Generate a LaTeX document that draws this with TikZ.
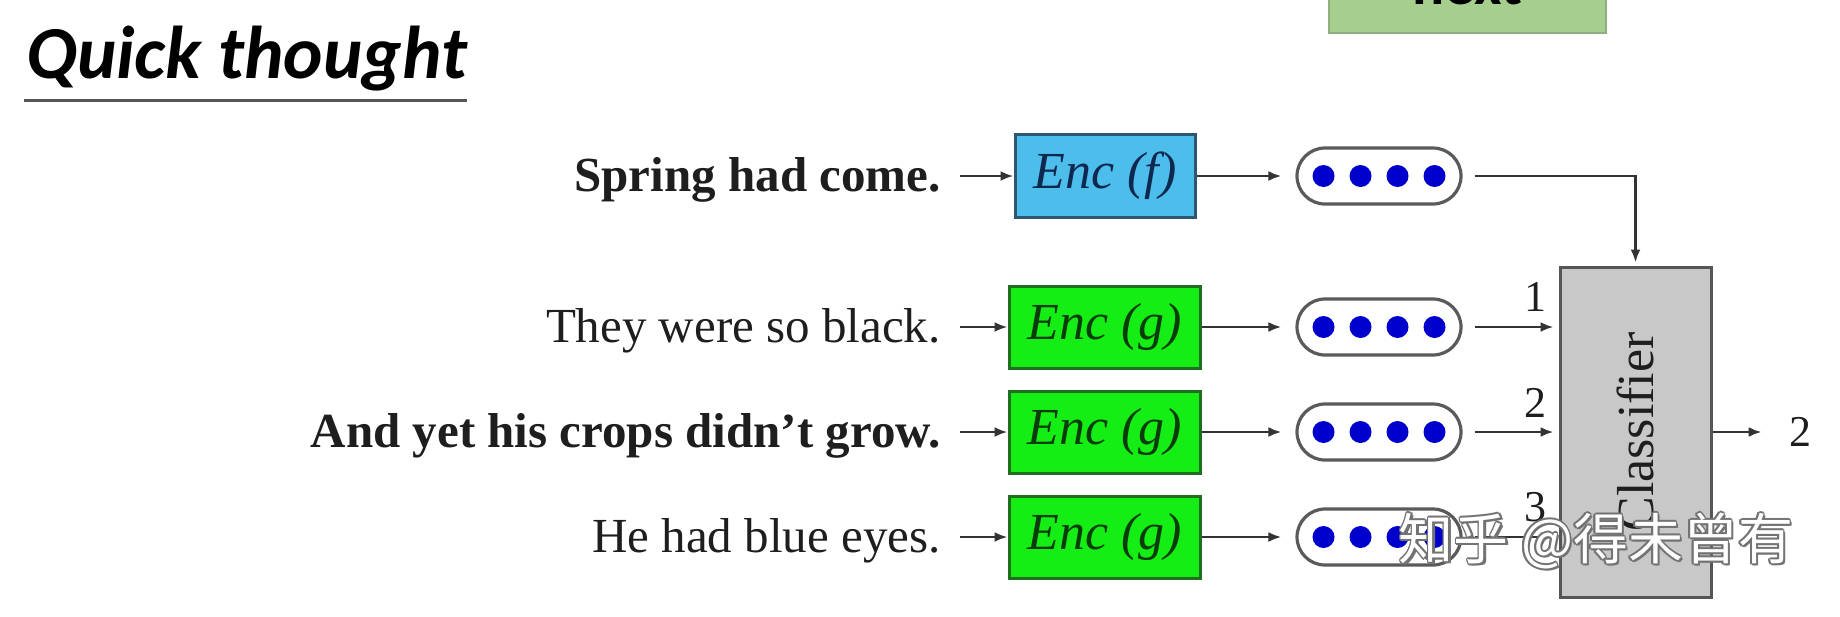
\documentclass[tikz,border=0pt]{standalone}
\usepackage{fontspec}
\setmainfont{Liberation Serif}
\newfontfamily\titlefont{Carlito}
\newfontfamily\cjkfont{Noto Sans CJK SC}
\usetikzlibrary{arrows.meta,calc}
\definecolor{linec}{HTML}{333333}
\definecolor{txtc}{HTML}{1E1E1E}
\definecolor{encblue}{HTML}{4DBEEC}
\definecolor{encblueb}{HTML}{2F5670}
\definecolor{encbluet}{HTML}{0F2850}
\definecolor{encgreen}{HTML}{14EE14}
\definecolor{encgreenb}{HTML}{1F6F1F}
\definecolor{encgreent}{HTML}{0A3C0A}
\definecolor{pillb}{HTML}{5A5A5A}
\definecolor{dotblue}{HTML}{0000CC}
\definecolor{clsfill}{HTML}{C8C8C8}
\definecolor{clsb}{HTML}{555555}
\definecolor{nextfill}{HTML}{A6CF8F}
\definecolor{nextb}{HTML}{8FAF80}
\definecolor{ulgray}{HTML}{555555}
\begin{document}
\begin{tikzpicture}[x=0.5pt,y=-0.5pt,
  arr/.style={draw=linec, line width=1.4pt, -{Latex[length=6.5pt,width=5pt]}},
  sent/.style={anchor=east, inner sep=0pt, text height=16.9pt, text depth=1.9pt,
    font=\fontsize{24.5}{29}\selectfont, text=txtc},
  bsent/.style={sent, font=\fontsize{24.5}{29}\selectfont\bfseries},
  encbase/.style={line width=1.5pt, inner sep=0pt, font=\fontsize{26}{30}\selectfont\itshape},
  encf/.style={encbase, draw=encblueb, fill=encblue, text=encbluet, minimum width=90pt, minimum height=41.5pt},
  encg/.style={encbase, draw=encgreenb, fill=encgreen, text=encgreent, minimum width=95.5pt, minimum height=41pt},
  pill/.style={draw=pillb, fill=white, line width=1.6pt, minimum width=82pt, minimum height=28pt, rounded corners=14pt, inner sep=0pt},
  clsbox/.style={draw=clsb, fill=clsfill, line width=1.5pt, minimum width=75.5pt, minimum height=165pt, inner sep=0pt},
  lbl/.style={inner sep=0pt, font=\fontsize{22}{26}\selectfont, text=txtc},
  wm/.style={inner sep=0pt, font=\cjkfont\fontsize{27.5}{32}\selectfont}]
\useasboundingbox (0,0) rectangle (1840,616);
\clip (0,0) rectangle (1840,616);
\fill[white] (0,0) rectangle (1840,616);

% top "next" box (cut off)
\node[draw=nextb, fill=nextfill, line width=1pt, minimum width=138.5pt, minimum height=40pt, inner sep=0pt] (nextbox) at (1467.5,-7) {};
\node[anchor=base, inner sep=0pt, font=\titlefont\bfseries\fontsize{30}{34}\selectfont] (nexttxt) at (1467.5,4) {next};

% title
\node[anchor=base west, inner sep=0pt, font=\titlefont\bfseries\itshape\fontsize{37.4}{41}\selectfont] (title) at (26,78) {Quick thought};
\draw[draw=ulgray, line width=1.5pt] ($(title.base west)+(-2,22)$) -- ($(title.base east)+(0,22)$);

% sentences
\node[bsent] (s0) at (941,176) {Spring had come.};
\node[sent]  (s1) at (941,327) {They were so black.};
\node[bsent] (s2) at (941,432) {And yet his crops didn’t grow.};
\node[sent]  (s3) at (941,537) {He had blue eyes.};

% encoders
\node[encf] (e0) at (1105,176) {Enc (f)};
\node[encg] (e1) at (1104.5,327) {Enc (g)};
\node[encg] (e2) at (1104.5,432) {Enc (g)};
\node[encg] (e3) at (1104.5,537) {Enc (g)};

% pills
\node[pill] (p0) at (1379,176) {};
\node[pill] (p1) at (1379,327) {};
\node[pill] (p2) at (1379,432) {};
\node[pill] (p3) at (1379,537) {};
\foreach \i in {0,...,3}
  \foreach \dx in {-55.5,-18.5,18.5,55.5}
    \fill[dotblue] ($(p\i.center)+(\dx,0)$) circle[radius=5.5pt];

% classifier
\node[clsbox] (cls) at (1635.5,432) {};
\node[rotate=90, inner sep=0pt, font=\fontsize{26}{30}\selectfont, text=txtc] (clstxt) at (cls.center) {Classifier};

% labels
\node[lbl] (l1) at (1535,297) {1};
\node[lbl] (l2) at (1535,403) {2};
\node[lbl] (l3) at (1535,507) {3};
\node[lbl] (out) at (1800,432) {2};

% arrows
\foreach \i in {0,...,3} {
  \draw[arr] ($(s\i.east)+(19,0)$) -- (e\i.west);
  \draw[arr] (e\i.east) -- ($(p\i.west)+(-14,0)$);
}
\foreach \i in {1,2,3}
  \draw[arr] ($(p\i.east)+(12,0)$) -- ($(p\i.east -| cls.west)+(-5,0)$);
\draw[arr] ($(p0.east)+(12,0)$) -| ($(cls.north)+(0,-3)$);
\draw[arr] (cls.east) -- ($(out.west)+(-27,0)$);

% watermark
\foreach \dx/\dy [count=\k] in {-1.6/0,1.6/0,0/-1.6,0/1.6,1.2/1.2,-1.2/1.2,1.2/-1.2,-1.2/-1.2,2.2/2.2}
  \node[wm, text=black!55] (wmshadow\k) at ($(1596,541)+(\dx,\dy)$) {知乎 @得未曾有};
\node[wm, text=white] (wm) at (1596,541) {知乎 @得未曾有};
\end{tikzpicture}
\end{document}
